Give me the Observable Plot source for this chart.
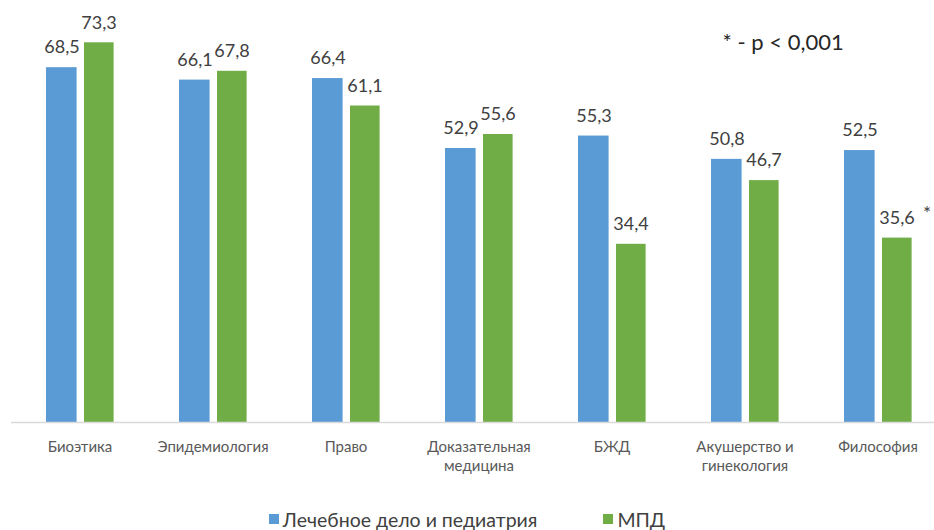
<!DOCTYPE html>
<html>
<head>
<meta charset="utf-8">
<script src="https://cdn.jsdelivr.net/npm/d3@7"></script>
<script src="https://cdn.jsdelivr.net/npm/@observablehq/plot@0.6"></script>
<style>
  html, body { margin: 0; padding: 0; background: #fff; overflow: hidden; }
  body { width: 934px; height: 530px; font-family: Lato, "Open Sans", sans-serif; }
  #chart svg { display: block; }
  #legend { height: 58px; display: flex; justify-content: center; align-items: center; gap: 66px; font-size: 19.5px; color: #404040; }
  .item { display: flex; align-items: center; gap: 4px; }
  .sw { width: 10px; height: 10px; display: inline-block; }
</style>
</head>
<body>
<div id="chart"></div>
<div id="legend"></div>
<script>
const categories = ["Биоэтика", "Эпидемиология", "Право", "Доказательная медицина", "БЖД", "Акушерство и гинекология", "Философия"];
const tickLabels = ["Биоэтика", "Эпидемиология", "Право", "Доказательная\nмедицина", "БЖД", "Акушерство и\nгинекология", "Философия"];
const seriesNames = ["Лечебное дело и педиатрия", "МПД"];
const valuesLech = [68.5, 66.1, 66.4, 52.9, 55.3, 50.8, 52.5];
const valuesMPD = [73.3, 67.8, 61.1, 55.6, 34.4, 46.7, 35.6];
const significantMPD = ["Философия"];
const note = "* - p < 0,001";
const colors = ["#5b9bd5", "#70ad47"];

const lech = categories.map((c, i) => ({category: c, value: valuesLech[i]}));
const mpd = categories.map((c, i) => ({category: c, value: valuesMPD[i]}));
const labelOf = new Map(categories.map((c, i) => [c, tickLabels[i]]));
const fmt = v => v.toFixed(1).replace(".", ",");
const textColor = "#404040";

const plot = Plot.plot({
  width: 934,
  height: 490,
  marginLeft: 11,
  marginRight: -11,
  marginTop: 7.6,
  marginBottom: 68,
  style: {fontFamily: "Lato, 'Open Sans', sans-serif", background: "#fff"},
  x: {type: "band", domain: categories, padding: 0, axis: null},
  y: {domain: [0, 80], axis: null},
  marks: [
    Plot.barY(lech, {x: "category", y: "value", fill: colors[0], insetLeft: 33, insetRight: 69.4}),
    Plot.barY(mpd, {x: "category", y: "value", fill: colors[1], insetLeft: 71, insetRight: 32.4}),
    Plot.ruleY([0], {stroke: "#d9d9d9", strokeWidth: 1.5}),
    Plot.text(lech, {x: "category", y: "value", text: d => fmt(d.value), dx: -18, dy: -20, fontSize: 18, fill: textColor}),
    Plot.text(mpd, {x: "category", y: "value", text: d => fmt(d.value), dx: 19, dy: -20, fontSize: 18, fill: textColor}),
    Plot.text(mpd.filter(d => significantMPD.includes(d.category)), {x: "category", y: "value", text: () => "*", dx: 49, dy: -24, fontSize: 19, fill: textColor}),
    Plot.text(categories, {x: d => d, text: d => labelOf.get(d), frameAnchor: "bottom", lineAnchor: "top", dy: 16, fontSize: 15, lineHeight: 1.27, fill: "#595959"}),
    Plot.text([note], {text: d => d, frameAnchor: "top-left", textAnchor: "start", dx: 711, dy: 26, fontSize: 22, fill: "#262626"})
  ]
});
document.getElementById("chart").appendChild(plot);

const legend = document.getElementById("legend");
seriesNames.forEach((name, i) => {
  const item = document.createElement("div");
  item.className = "item";
  const sw = document.createElement("span");
  sw.className = "sw";
  sw.style.background = colors[i];
  const t = document.createElement("span");
  t.textContent = name;
  item.appendChild(sw);
  item.appendChild(t);
  legend.appendChild(item);
});
</script>
</body>
</html>
